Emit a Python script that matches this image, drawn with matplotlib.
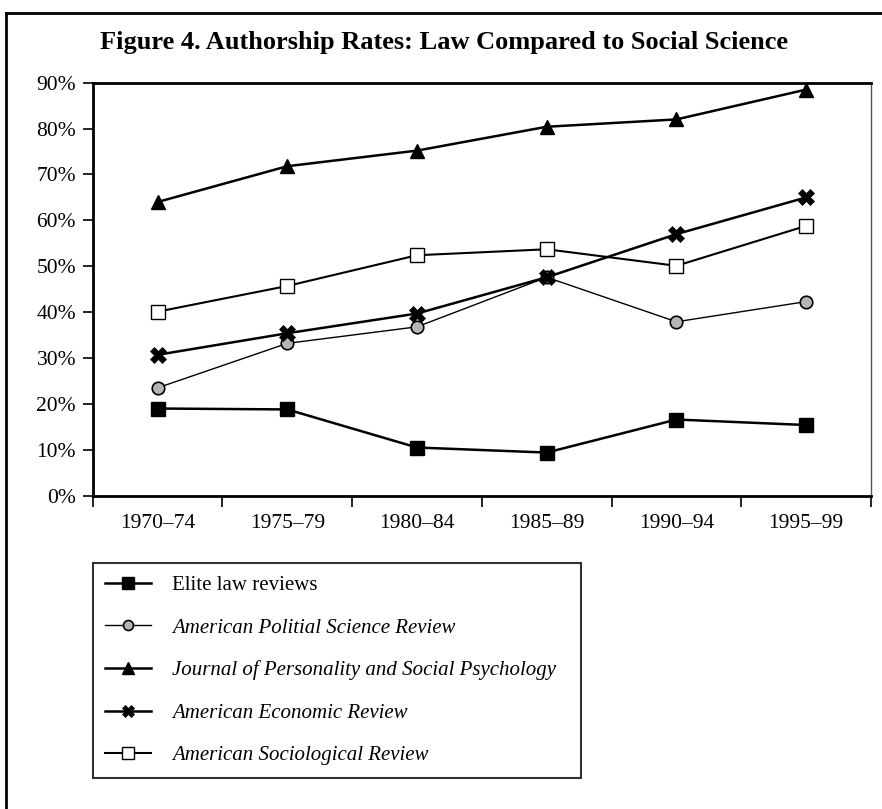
import matplotlib
matplotlib.use("Agg")
import matplotlib.pyplot as plt
from matplotlib.lines import Line2D
from matplotlib.ticker import FixedLocator, FuncFormatter

# Data
periods = ["1970–74", "1975–79", "1980–84", "1985–89", "1990–94", "1995–99"]
elite_law = [19.0, 18.8, 10.5, 9.4, 16.6, 15.4]
apsr = [23.5, 33.2, 36.8, 47.6, 37.9, 42.3]
jpsp = [64.0, 71.8, 75.2, 80.4, 82.0, 88.5]
aer = [30.7, 35.4, 39.7, 47.6, 57.0, 65.0]
asr = [40.1, 45.7, 52.4, 53.7, 50.1, 58.8]

plt.rcParams["font.family"] = ["Liberation Serif", "DejaVu Serif"]

W, H = 882, 809
fig = plt.figure(figsize=(W / 100, H / 100), dpi=100)
ax = fig.add_axes([92.7 / W, 1 - 495.7 / H, (871 - 92.7) / W, (495.7 - 82.7) / H])

x = list(range(len(periods)))

ax.plot(x, elite_law, color="black", lw=1.8, marker="s", ms=10,
        mfc="black", mec="black", label="Elite law reviews", zorder=3)
ax.plot(x, apsr, color="black", lw=1.0, marker="o", ms=9,
        mfc="#b5b5b5", mec="black", mew=1.2, label="American Politial Science Review", zorder=3)
ax.plot(x, jpsp, color="black", lw=1.8, marker="^", ms=10,
        mfc="black", mec="black", label="Journal of Personality and Social Psychology", zorder=3)
ax.plot(x, aer, color="black", lw=1.8, marker="X", ms=11,
        mfc="black", mec="black", mew=0.5, label="American Economic Review", zorder=3)
ax.plot(x, asr, color="black", lw=1.5, marker="s", ms=10,
        mfc="white", mec="black", mew=1.0, label="American Sociological Review", zorder=3)

ax.set_xlim(-0.5, len(periods) - 0.5)
ax.set_ylim(0, 90)

ax.xaxis.set_major_locator(FixedLocator(x))
ax.set_xticklabels(periods, fontsize=15.5)
ax.xaxis.set_minor_locator(FixedLocator([i - 0.5 for i in range(len(periods) + 1)]))
ax.tick_params(axis="x", which="major", length=0, pad=13)
ax.tick_params(axis="x", which="minor", direction="out", length=8, width=1.2)

ax.set_yticks(range(0, 91, 10))
ax.yaxis.set_major_formatter(FuncFormatter(lambda v, p: f"{int(v)}%"))
ax.tick_params(axis="y", direction="out", length=7, width=1.2, pad=5, labelsize=15.5)

for side in ["left", "top", "bottom"]:
    ax.spines[side].set_linewidth(2)
ax.spines["right"].set_linewidth(1)
ax.spines["right"].set_color("#555555")

fig.text(0.503, 1 - 43 / H, "Figure 4. Authorship Rates: Law Compared to Social Science",
         ha="center", va="center", fontsize=19, fontweight="bold")

handles, labels = ax.get_legend_handles_labels()
leg = fig.legend(handles, labels, loc="upper left",
                 bbox_to_anchor=(92.7 / W, 1 - 563 / H, (581 - 92.7) / W, 0),
                 mode="expand", fontsize=15, frameon=True, fancybox=False,
                 edgecolor="black", labelspacing=1.1, handlelength=2.2,
                 handletextpad=1.0, borderpad=0.6, borderaxespad=0, markerscale=0.8)
leg.get_frame().set_linewidth(1.5)
for t in leg.get_texts()[1:]:
    t.set_fontstyle("italic")

# outer frame (top and left edges)
fig.add_artist(Line2D([6 / W, 1], [1 - 13 / H, 1 - 13 / H], color="black", lw=2))
fig.add_artist(Line2D([6 / W, 6 / W], [0, 1 - 13 / H], color="black", lw=2))

fig.savefig("out.png", dpi=100)
